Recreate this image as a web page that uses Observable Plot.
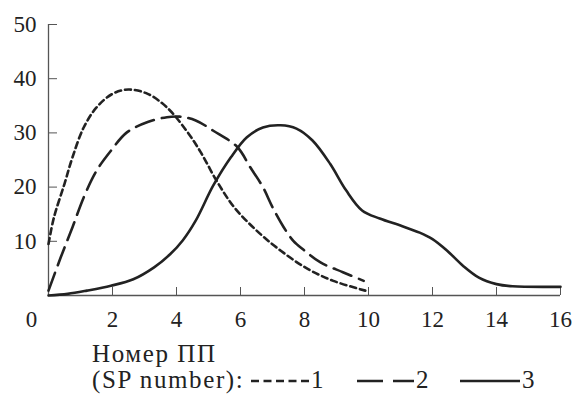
<!DOCTYPE html>
<html><head><meta charset="utf-8">
<script src="https://cdn.jsdelivr.net/npm/d3@7"></script>
<script src="https://cdn.jsdelivr.net/npm/@observablehq/plot@0.6"></script>
<style>
body{margin:0;background:#fff;color:#222}
svg{display:block}
</style></head><body>
<div id="chart"></div>
<div id="legend"></div>
<script>
// Series 1 (short dashes)
const x1 = [0, 0.17, 0.5, 0.75, 1.1, 1.5, 2.0, 2.5, 3.1, 3.7, 4.3, 4.75, 5.25, 5.8, 6.5, 7.25, 8.1, 8.9, 9.9];
const y1 = [9.5, 14.4, 20.6, 25.5, 31, 34.7, 37.2, 38, 37.2, 34.7, 30.5, 26.5, 21.2, 16.3, 12, 8.3, 4.9, 2.7, 0.9];
// Series 2 (long dashes)
const x2 = [0, 0.38, 0.75, 1.1, 1.5, 1.95, 2.45, 3.1, 3.7, 4.1, 4.6, 5.15, 5.9, 6.3, 6.7, 7.0, 7.35, 7.65, 8.0, 8.5, 9.2, 9.85];
const y2 = [0.9, 7, 12.6, 18.1, 23, 26.7, 30.1, 32, 32.9, 33, 32.3, 30.4, 27.4, 23.7, 20, 16.3, 12.6, 10.1, 8.3, 6.1, 4.3, 2.7];
// Series 3 (solid)
const x3 = [0, 0.6, 1.2, 1.95, 2.65, 3.3, 3.8, 4.2, 4.6, 5.15, 5.7, 6.2, 6.7, 7.25, 7.75, 8.25, 8.8, 9.3, 9.8, 10.35, 11.0, 11.6, 12.0, 12.45, 12.95, 13.45, 14.0, 14.5, 16];
const y3 = [0, 0.3, 0.9, 1.8, 3, 5.2, 7.6, 10.2, 13.8, 20.3, 25.5, 29.2, 31, 31.4, 30.8, 28.6, 24.3, 19.4, 15.7, 14.2, 12.9, 11.6, 10.4, 8.3, 5.5, 3.3, 2.1, 1.7, 1.6];

const seriesNames = ["1", "2", "3"];
const xTicks = [0, 2, 4, 6, 8, 10, 12, 14, 16];
const yTicks = [10, 20, 30, 40, 50];
const axisTitle = ["Номер ПП", "(SP number):"];

const FONT = "Liberation Serif";
const dashes = {"1": "6,4", "2": "19,8", "3": null};
const legendDashes = {"1": "8,4.5", "2": "26,10", "3": null};
const ink = "#222";
const axisInk = "#555";

const mk = (xs, ys) => xs.map((x, i) => ({x, y: ys[i]}));
const data = [mk(x1, y1), mk(x2, y2), mk(x3, y3)];

const chart = Plot.plot({
  width: 575,
  height: 334,
  marginLeft: 48,
  marginRight: 15,
  marginTop: 24,
  marginBottom: 39,
  style: {fontSize: "23px", color: ink, background: "#fff"},
  x: {domain: [0, 16]},
  y: {domain: [0, 50]},
  marks: [
    Plot.axisX({ticks: xTicks.slice(1), tickSize: -8, tickPadding: 22.7, stroke: axisInk, label: null, fontSize: 23, fontFamily: FONT, fill: ink}),
    Plot.axisX({ticks: xTicks.slice(0, 1), tickSize: 0, tickPadding: 14.7, dx: -17, label: null, fontSize: 23, fontFamily: FONT, fill: ink}),
    Plot.axisY({ticks: yTicks, tickSize: -9, tickPadding: 21, stroke: axisInk, label: null, fontSize: 23, fontFamily: FONT, fill: ink}),
    Plot.ruleY([0], {stroke: axisInk, strokeWidth: 1.3}),
    Plot.ruleX([0], {stroke: axisInk, strokeWidth: 1.3}),
    ...data.map((d, i) => Plot.line(d, {x: "x", y: "y", curve: "catmull-rom", stroke: ink, strokeWidth: 2.6,
      strokeDasharray: dashes[seriesNames[i]]}))
  ]
});
chart.style.fontFamily = `"${FONT}"`;
document.getElementById("chart").append(chart);

// legend below the plot (SVG top = 334)
const top0 = 334;
const lg = d3.create("svg").attr("width", 575).attr("height", 397 - top0)
  .attr("font-family", FONT).attr("font-size", 25).attr("fill", ink)
  .style("letter-spacing", "1.6px");
lg.append("text").attr("x", 92).attr("y", 362 - top0).text(axisTitle[0]);
lg.append("text").attr("x", 92).attr("y", 388 - top0).text(axisTitle[1]);
const items = [{x: 251, w: 58}, {x: 357, w: 57}, {x: 460, w: 60}];
const lineY = 381 - top0;
seriesNames.forEach((s, i) => {
  lg.append("line").attr("x1", items[i].x).attr("x2", items[i].x + items[i].w)
    .attr("y1", lineY).attr("y2", lineY)
    .attr("stroke", ink).attr("stroke-width", 2.6).attr("stroke-dasharray", legendDashes[s]);
  lg.append("text").attr("x", items[i].x + items[i].w + 2).attr("y", 388 - top0).text(s);
});
document.getElementById("legend").append(lg.node());
</script>
</body></html>
